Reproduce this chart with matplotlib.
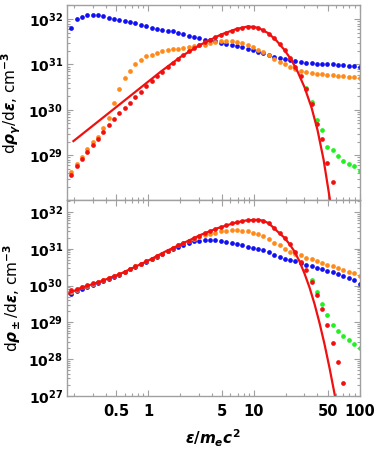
import numpy as np
import matplotlib
matplotlib.use('Agg')
from matplotlib import pyplot as plt
from matplotlib.ticker import FixedLocator, FixedFormatter, NullFormatter

plt.rcParams['font.family'] = ['DejaVu Sans']
plt.rcParams['font.weight'] = 'bold'
plt.rcParams['mathtext.fontset'] = 'custom'
plt.rcParams['mathtext.rm'] = 'DejaVu Sans:bold'
plt.rcParams['mathtext.it'] = 'DejaVu Sans:bold:italic'
plt.rcParams['mathtext.bf'] = 'DejaVu Sans:bold'

# energy grid of the dots (eps / m_e c^2)
eps = [0.1875, 0.2106, 0.2366, 0.2657, 0.2985, 0.3353, 0.3767, 0.4231, 0.4753, 0.5339,
       0.5998, 0.6737, 0.7568, 0.8501, 0.9550, 1.073, 1.205, 1.354, 1.521, 1.708,
       1.919, 2.155, 2.421, 2.720, 3.055, 3.432, 3.855, 4.330, 4.864, 5.464,
       6.138, 6.895, 7.745, 8.700, 9.772, 10.98, 12.33, 13.85, 15.56, 17.48,
       19.63, 22.06, 24.77, 27.83, 31.26, 35.12, 39.45, 44.31, 49.77, 55.91,
       62.81, 70.55, 79.25, 89.03, 100.0]

# top panel: photons, log10 of d rho / d eps
top_blue = [31.815, 32.0, 32.04, 32.08, 32.095, 32.095, 32.07, 32.02, 32.0, 31.985,
            31.96, 31.93, 31.91, 31.87, 31.84, 31.815, 31.79, 31.77, 31.74, 31.73,
            31.70, 31.67, 31.63, 31.60, 31.58, 31.55, 31.53, 31.51, 31.48, 31.45,
            31.42, 31.40, 31.38, 31.35, 31.33, 31.28, 31.25, 31.21, 31.17, 31.15,
            31.12, 31.09, 31.07, 31.06, 31.04, 31.03, 31.02, 31.015, 31.01, 31.0,
            30.99, 30.98, 30.97, 30.96, 30.94]
top_orange = [28.62, 28.81, 28.97, 29.14, 29.28, 29.41, 29.60, 29.83, 30.15, 30.46,
              30.70, 30.86, 31.0, 31.09, 31.18, 31.21, 31.25, 31.29, 31.32, 31.34,
              31.35, 31.37, 31.38, 31.40, 31.42, 31.44, 31.47, 31.49, 31.51, 31.51,
              31.51, 31.49, 31.47, 31.43, 31.38, 31.33, 31.27, 31.20, 31.13, 31.06,
              31.0, 30.94, 30.90, 30.86, 30.83, 30.81, 30.79, 30.78, 30.77, 30.76,
              30.75, 30.74, 30.73, 30.72, 30.71]
top_red = [28.57, 28.75, 28.91, 29.08, 29.22, 29.36, 29.52, 29.66, 29.80, 29.94,
           30.05, 30.16, 30.28, 30.40, 30.52, 30.63, 30.74, 30.83, 30.94, 31.03,
           31.12, 31.21, 31.29, 31.36, 31.42, 31.49, 31.55, 31.60, 31.65, 31.70,
           31.74, 31.78, 31.81, 31.83, 31.83, 31.81, 31.76, 31.68, 31.58, 31.45,
           31.31, 31.15, 30.95, 30.74, 30.46, 30.13, 29.69, 29.36, 28.82, 28.41]
top_green = [30.47, 30.18, 29.78, 29.56, 29.17, 29.11, 28.99, 28.88, 28.81, 28.75, 28.64]
top_green_start = 44

top_line_eps = [0.1956, 0.3513, 0.6783, 1.310, 2.030, 3.149, 4.883, 6.784, 8.826, 10.99,
                13.68, 16.30, 19.45, 22.65, 25.85, 30.12, 35.14, 40.07, 45.71, 52.48, 58.0]
top_line = [29.31, 29.78, 30.31, 30.84, 31.17, 31.44, 31.66, 31.78, 31.84, 31.81,
            31.69, 31.53, 31.32, 31.10, 30.85, 30.50, 30.05, 29.55, 28.90, 28.02, 27.2]

# bottom panel: pairs
bot_blue = [29.78, 29.84, 29.90, 29.96, 30.02, 30.07, 30.12, 30.18, 30.24, 30.30,
            30.37, 30.44, 30.51, 30.58, 30.65, 30.72, 30.79, 30.86, 30.93, 31.0,
            31.06, 31.11, 31.16, 31.20, 31.22, 31.24, 31.24, 31.23, 31.21, 31.18,
            31.15, 31.12, 31.09, 31.06, 31.02, 30.99, 30.96, 30.92, 30.84, 30.77,
            30.73, 30.70, 30.66, 30.61, 30.56, 30.52, 30.49, 30.45, 30.40, 30.36,
            30.31, 30.26, 30.20, 30.14, 30.05]
bot_orange = [29.82, 29.89, 29.95, 30.0, 30.05, 30.10, 30.15, 30.20, 30.26, 30.32,
              30.38, 30.45, 30.52, 30.59, 30.66, 30.72, 30.80, 30.87, 30.95, 31.02,
              31.09, 31.16, 31.22, 31.27, 31.32, 31.37, 31.41, 31.44, 31.47, 31.49,
              31.50, 31.50, 31.49, 31.47, 31.44, 31.40, 31.35, 31.27, 31.17, 31.09,
              31.0, 30.91, 30.86, 30.82, 30.76, 30.71, 30.66, 30.61, 30.56, 30.52,
              30.47, 30.43, 30.38, 30.34, 30.27]
bot_red = [29.87, 29.92, 29.97, 30.02, 30.07, 30.11, 30.15, 30.20, 30.26, 30.32,
           30.38, 30.45, 30.52, 30.59, 30.66, 30.72, 30.80, 30.87, 30.95, 31.02,
           31.09, 31.16, 31.22, 31.29, 31.36, 31.42, 31.48, 31.54, 31.60, 31.65,
           31.69, 31.72, 31.75, 31.77, 31.78, 31.79, 31.76, 31.69, 31.56, 31.43,
           31.29, 31.12, 30.92, 30.65, 30.41, 30.11, 29.75, 29.37, 28.93, 28.45,
           27.93, 27.36]
bot_green = [30.15, 29.82, 29.50, 29.19, 28.93, 28.77, 28.63, 28.52, 28.42, 28.31]
bot_green_start = 45

bot_line_eps = [0.1703, 0.2265, 0.3513, 0.5445, 1.0, 1.462, 2.169, 3.149, 4.541, 6.493,
                8.448, 10.99, 12.26, 13.68, 15.27, 17.03, 19.44, 21.69, 24.20, 27.00,
                30.13, 33.63, 37.52, 41.87, 46.71, 52.13, 58.58, 64.9]
bot_line = [29.77, 29.93, 30.11, 30.32, 30.68, 30.93, 31.16, 31.38, 31.56, 31.70,
            31.77, 31.79, 31.76, 31.70, 31.58, 31.45, 31.30, 31.13, 30.93, 30.66,
            30.33, 29.95, 29.50, 28.98, 28.40, 27.75, 27.0, 26.3]

x_ticks = [0.5, 1, 5, 10, 50, 100]
x_tick_labels = ['0.5', '1', '5', '10', '50', '100']
x_minor = [0.2, 0.3, 0.4, 0.6, 0.7, 0.8, 0.9, 2, 3, 4, 6, 7, 8, 9, 20, 30, 40, 60, 70, 80, 90]

blue = '#1010f0'
orange = '#ff8a1a'
red = '#f01010'
green = '#22f022'
frame = '#a0a0a0'

fig = plt.figure(figsize=(3.82, 4.53), dpi=100)
ax1 = fig.add_axes([0.1754, 0.5574, 0.7657, 0.4316])
ax2 = fig.add_axes([0.1754, 0.1258, 0.7657, 0.4316])

e = np.array(eps)
ms = 3.4


def pts(vals):
    return 10.0 ** np.array(vals)


# top panel
ax1.plot(e, pts(top_blue), 'o', color=blue, ms=ms, mec='none')
ax1.plot(e, pts(top_orange), 'o', color=orange, ms=ms, mec='none')
ax1.plot(e[top_green_start:top_green_start + len(top_green)], pts(top_green), 'o', color=green, ms=ms, mec='none')
ax1.plot(e[:len(top_red)], pts(top_red), 'o', color=red, ms=ms, mec='none')
ax1.plot(top_line_eps, pts(top_line), '-', color=red, lw=1.6)

# bottom panel
ax2.plot(e, pts(bot_blue), 'o', color=blue, ms=ms, mec='none')
ax2.plot(e, pts(bot_orange), 'o', color=orange, ms=ms, mec='none')
ax2.plot(e[bot_green_start:bot_green_start + len(bot_green)], pts(bot_green), 'o', color=green, ms=ms, mec='none')
ax2.plot(e[:len(bot_red)], pts(bot_red), 'o', color=red, ms=ms, mec='none')
ax2.plot(bot_line_eps, pts(bot_line), '-', color=red, lw=1.6)

for ax, ylo, yticks in [(ax1, 1.0e28, [29, 30, 31, 32]), (ax2, 1.0e27, [27, 28, 29, 30, 31, 32])]:
    ax.set_xscale('log')
    ax.set_yscale('log')
    ax.set_xlim(0.17, 100)
    ax.set_ylim(ylo, 2.05e32)
    ax.yaxis.set_major_locator(FixedLocator([10.0 ** k for k in yticks]))
    ax.yaxis.set_major_formatter(FixedFormatter(['$10^{%d}$' % k for k in yticks]))
    ymin = [m * 10.0 ** k for k in range(26, 33) for m in range(2, 10)]
    ax.yaxis.set_minor_locator(FixedLocator(ymin))
    ax.yaxis.set_minor_formatter(NullFormatter())
    ax.xaxis.set_major_locator(FixedLocator(x_ticks))
    ax.xaxis.set_minor_locator(FixedLocator(x_minor))
    ax.xaxis.set_minor_formatter(NullFormatter())
    ax.tick_params(which='both', direction='in', top=True, right=True, colors=frame,
                   labelcolor='black', labelsize=10, width=0.8)
    ax.tick_params(which='major', length=4.5)
    ax.tick_params(which='minor', length=2.5)
    ax.tick_params(axis='y', pad=3)
    for s in ax.spines.values():
        s.set_color(frame)
        s.set_linewidth(1.0)

ax1.xaxis.set_major_formatter(NullFormatter())
ax2.xaxis.set_major_formatter(FixedFormatter(x_tick_labels))
ax2.tick_params(axis='x', labelsize=10.5, pad=6)

ax1.set_ylabel(r'd$\rho_\gamma$/d$\epsilon$, cm$^{-3}$', fontsize=11, labelpad=4)
ax2.set_ylabel(r'd$\rho_\pm$/d$\epsilon$, cm$^{-3}$', fontsize=11, labelpad=4)
ax2.set_xlabel(r'$\epsilon/m_ec^2$', fontsize=11, labelpad=6)

plt.savefig('out.png', dpi=100)
